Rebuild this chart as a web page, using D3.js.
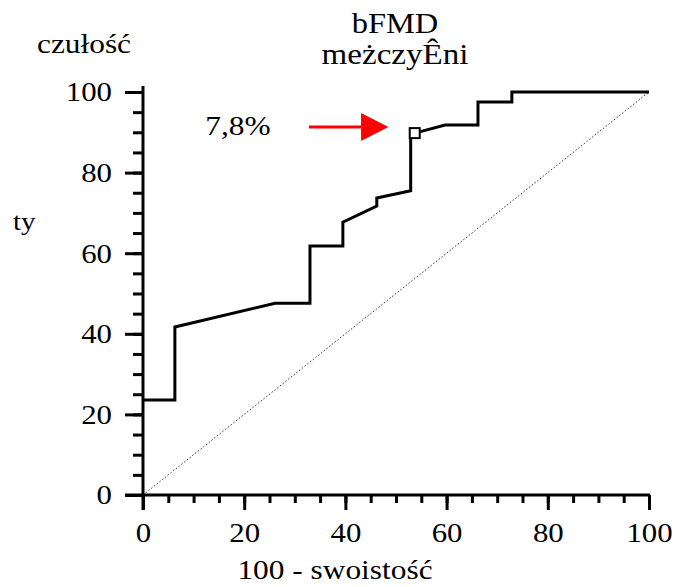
<!DOCTYPE html>
<html>
<head>
<meta charset="utf-8">
<script src="https://cdn.jsdelivr.net/npm/d3@7"></script>
<style>
  body { margin: 0; background: #fff; }
  text { font-family: "Liberation Serif", "DejaVu Serif", serif; fill: #000; }
</style>
</head>
<body>
<div id="container"></div>
<script>
/* CONSTANTS AND GLOBALS */
const width = 679;
const height = 587;
const stretch = 1.12;   // the reference type is a little wider than Liberation Serif

/* DATA */
// ROC curve: 100 - specificity vs sensitivity
const fpr = [0, 6.3, 6.3, 26.1, 33.0, 33.0, 39.5, 39.5, 46.2, 46.2, 52.9, 52.9, 53.7, 59.7, 66.2, 66.2, 72.9, 72.9, 100];
const tpr = [23.6, 23.6, 41.7, 47.6, 47.6, 61.8, 61.8, 67.7, 71.7, 73.7, 75.5, 89.8, 89.8, 91.8, 91.8, 97.5, 97.5, 100, 100];
const cutPoint = [53.7, 89.8];   // marked criterion
const cutLabel = "7,8%";
const xTicks = [0, 20, 40, 60, 80, 100];
const yTicks = [0, 20, 40, 60, 80, 100];
const minorTicks = d3.range(0, 101, 5);

/* SCALES */
const xScale = d3.scaleLinear().domain([0, 100]).range([143, 649]);
const yScale = d3.scaleLinear().domain([0, 100]).range([495, 92]);

const svg = d3.select("#container")
  .append("svg")
  .attr("width", width)
  .attr("height", height);

// diagonal reference line
svg.append("line")
  .attr("x1", xScale(0)).attr("y1", yScale(0))
  .attr("x2", xScale(100)).attr("y2", yScale(100))
  .attr("stroke", "#333")
  .attr("stroke-width", 1)
  .attr("stroke-dasharray", "1.5,2");

// axes
const xAxis = svg.append("g")
  .attr("transform", `translate(0,${yScale(0)})`);
xAxis.call(d3.axisBottom(xScale).tickValues(minorTicks).tickSize(8).tickFormat(""));
xAxis.append("g").call(d3.axisBottom(xScale).tickValues(xTicks).tickSize(15).tickPadding(6));
xAxis.selectAll(".domain").remove();
xAxis.append("line")
  .attr("x1", xScale(0) - 18).attr("x2", xScale(100) + 1)
  .attr("stroke", "#000").attr("stroke-width", 3);

const yAxis = svg.append("g")
  .attr("transform", `translate(${xScale(0)},0)`);
yAxis.call(d3.axisLeft(yScale).tickValues(minorTicks).tickSize(10).tickFormat(""));
yAxis.append("g").call(d3.axisLeft(yScale).tickValues(yTicks).tickSize(18).tickPadding(13));
yAxis.selectAll(".domain").remove();
yAxis.append("line")
  .attr("y1", yScale(0) + 15).attr("y2", yScale(100) - 6)
  .attr("stroke", "#000").attr("stroke-width", 3);

svg.selectAll(".tick line").attr("stroke", "#000").attr("stroke-width", 3);
svg.selectAll(".tick text")
  .style("font-family", '"Liberation Serif", serif')
  .style("font-size", "27.5px");
xAxis.selectAll(".tick text").attr("dy", "0.95em");

// ROC curve
const line = d3.line()
  .x((d, i) => xScale(fpr[i]))
  .y((d, i) => yScale(tpr[i]));

svg.append("path")
  .datum(fpr)
  .attr("d", line)
  .attr("fill", "none")
  .attr("stroke", "#000")
  .attr("stroke-width", 3);

// marked point
svg.append("rect")
  .attr("x", xScale(cutPoint[0]) - 5)
  .attr("y", yScale(cutPoint[1]) - 5)
  .attr("width", 10).attr("height", 10)
  .attr("fill", "#fff")
  .attr("stroke", "#000")
  .attr("stroke-width", 2);

// arrow
const ay = yScale(91.3);
svg.append("line")
  .attr("x1", xScale(32.8)).attr("x2", xScale(44))
  .attr("y1", ay).attr("y2", ay)
  .attr("stroke", "red").attr("stroke-width", 3);
svg.append("path")
  .attr("d", `M${xScale(43.1)},${ay - 14} L${xScale(48.5)},${ay} L${xScale(43.1)},${ay + 14} Z`)
  .attr("fill", "red");

svg.append("text")
  .attr("x", 238).attr("y", 135)
  .attr("text-anchor", "middle")
  .style("font-size", "28px")
  .text(cutLabel);

// titles
svg.append("text")
  .attr("x", 395).attr("y", 33)
  .attr("text-anchor", "middle")
  .style("font-size", "29px")
  .text("bFMD");
svg.append("text")
  .attr("x", 395).attr("y", 64)
  .attr("text-anchor", "middle")
  .style("font-size", "29.5px")
  .text("meżczyÊni");

svg.append("text")
  .attr("x", 37).attr("y", 53)
  .style("font-size", "28px")
  .text("czułość");

svg.append("text")
  .attr("x", 13).attr("y", 230)
  .style("font-size", "26px")
  .text("ty");

svg.append("text")
  .attr("x", 335).attr("y", 579)
  .attr("text-anchor", "middle")
  .style("font-size", "28px")
  .text("100 - swoistość");

// widen every label a little
svg.selectAll("text").each(function () {
  const w = this.getComputedTextLength();
  if (w > 0) {
    d3.select(this)
      .attr("textLength", w * stretch)
      .attr("lengthAdjust", "spacingAndGlyphs");
  }
});
</script>
</body>
</html>
